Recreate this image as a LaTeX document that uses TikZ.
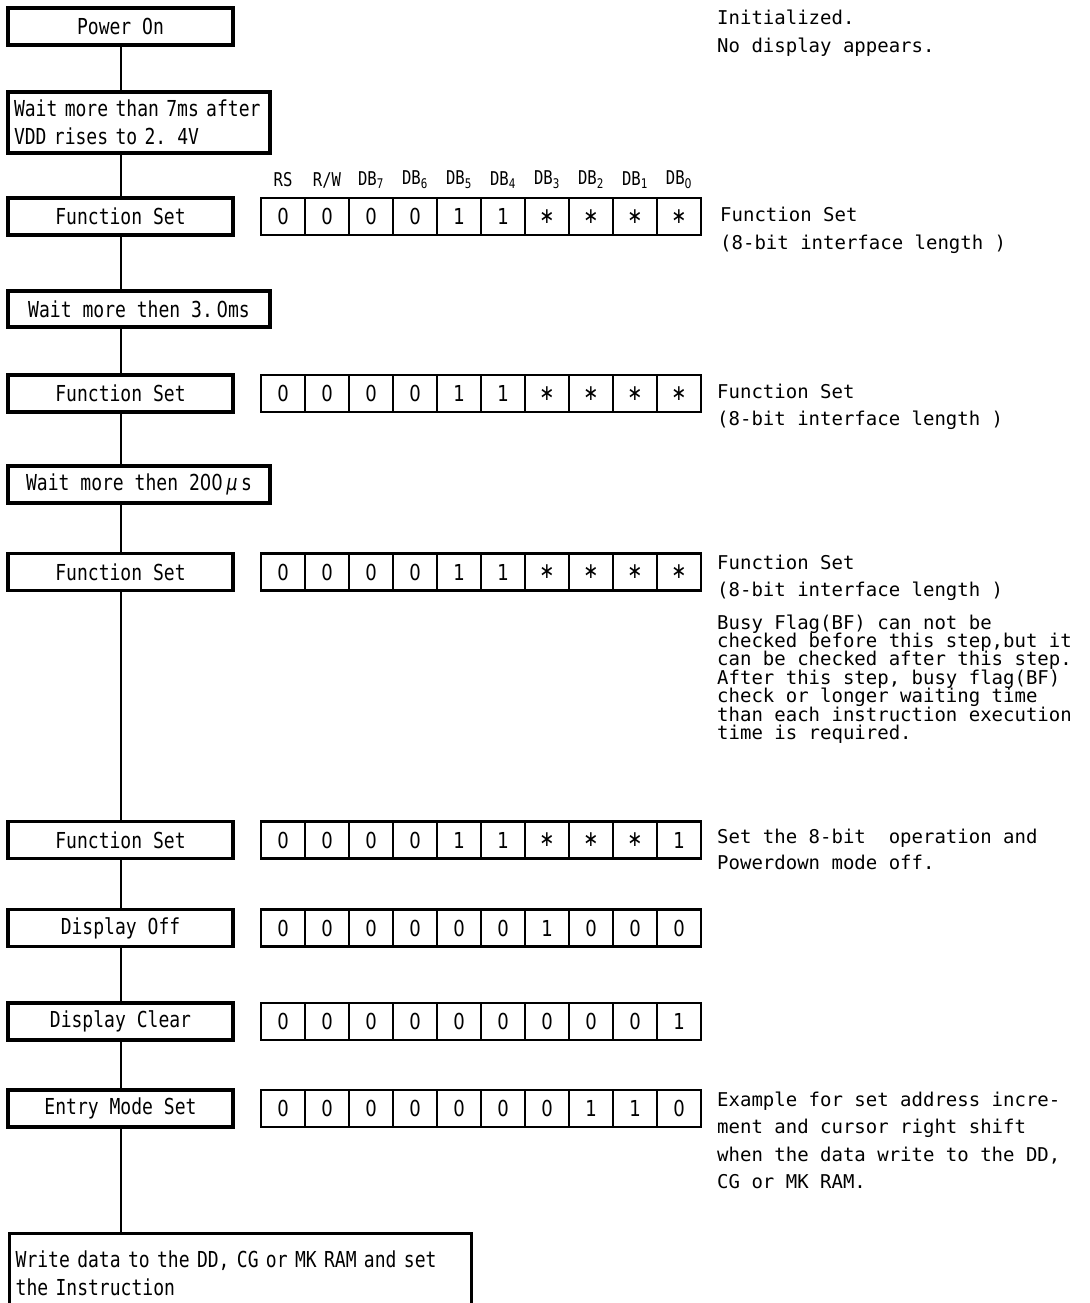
\documentclass[tikz,border=0pt]{standalone}
\usepackage{fontspec}
\newfontfamily\boxfont[FakeStretch=0.82]{DejaVu Sans Mono}
\newfontfamily\dz[FakeStretch=0.82]{DejaVu Sans}
\newfontfamily\rtfont{DejaVu Sans Mono}
\begin{document}
\begin{tikzpicture}[x=1pt,y=-1pt,
  box/.style={draw, line width=3.3pt, inner sep=0pt, minimum height=37pt,
    font=\boxfont\fontsize{22}{28}\selectfont},
  tbox/.style={box, align=left, inner xsep=5pt},
  cell/.style={draw, line width=2.8pt, minimum width=44pt, minimum height=37pt,
    inner sep=0pt, font=\dz\fontsize{22}{24}\selectfont},
  hdr/.style={font=\boxfont\fontsize{19}{20}\selectfont, inner sep=0pt},
  rt/.style={font=\rtfont\fontsize{19}{22}\selectfont, inner sep=0pt, anchor=base west},
  link/.style={line width=2pt}]
\useasboundingbox (0,0) rectangle (1089,1303);
\fill[white] (0,0) rectangle (1089,1303);

% left column boxes
\node[box, minimum width=225pt] (pon) at (120.5,26.5) {Power On};
\node[tbox, minimum width=262pt, minimum height=61pt, text width=250pt] (w7) at (139,122.5)
  {Wait more than 7ms after\\VDD rises to 2. 4V};
\node[box, minimum width=225pt] (fs1) at (120.5,216.5) {Function Set};
\node[box, minimum width=262pt, minimum height=36pt] (w3) at (139,309) {Wait more then 3.\,{\dz 0}ms};
\node[box, minimum width=225pt] (fs2) at (120.5,393.5) {Function Set};
\node[box, minimum width=262pt, minimum height=37pt] (w200) at (139,484.5) {Wait more then 2{\dz 00}\,\textit{μ}\,s};
\node[box, minimum width=225pt] (fs3) at (120.5,572) {Function Set};
\node[box, minimum width=225pt] (fs4) at (120.5,840) {Function Set};
\node[box, minimum width=225pt] (doff) at (120.5,928) {Display Off};
\node[box, minimum width=225pt] (dclr) at (120.5,1021.5) {Display Clear};
\node[box, minimum width=225pt] (ems) at (120.5,1108.5) {Entry Mode Set};
\node[tbox, minimum width=462pt, minimum height=80pt, text width=450pt, anchor=north west] (wr) at (8,1232)
  {Write data to the DD, CG or MK RAM and set\\the Instruction\\[10pt]};

% connectors
\coordinate (lx) at (121,0);
\foreach \a/\b in {pon/w7, w7/fs1, fs1/w3, w3/fs2, fs2/w200, w200/fs3, fs3/fs4, fs4/doff, doff/dclr, dclr/ems, ems/wr}
  \draw[link] (\a.south -| lx) -- (\b.north -| lx);

% register headers
\foreach \t [count=\i from 0] in {RS, R/W, DB\textsubscript{7}, DB\textsubscript{6}, DB\textsubscript{5}, DB\textsubscript{4}, DB\textsubscript{3}, DB\textsubscript{2}, DB\textsubscript{1}, DB\textsubscript{\dz 0}}
  \node[hdr] (h\i) at (283+44*\i,180) {\t};

% register cells
\foreach \r/\yy/\vals in {
  a/216.5/{0,0,0,0,1,1,∗,∗,∗,∗},
  b/393.5/{0,0,0,0,1,1,∗,∗,∗,∗},
  c/572/{0,0,0,0,1,1,∗,∗,∗,∗},
  d/840/{0,0,0,0,1,1,∗,∗,∗,1},
  e/928/{0,0,0,0,0,0,1,0,0,0},
  f/1021.5/{0,0,0,0,0,0,0,0,0,1},
  g/1108.5/{0,0,0,0,0,0,0,1,1,0}}
{
  \foreach \v [count=\i from 0] in \vals
    \node[cell] (\r c\i) at (283+44*\i,\yy) {\v};
}

% right-hand texts
\node[rt] (t0a) at (717,25) {Initialized.};
\node[rt] (t0b) at (717,53) {No display appears.};
\node[rt] (t1a) at (720,221) {Function Set};
\node[rt] (t1b) at (720,249) {(8-bit interface length )};
\node[rt] (t2a) at (717,398) {Function Set};
\node[rt] (t2b) at (717,425) {(8-bit interface length )};
\node[rt] (t3a) at (717,569) {Function Set};
\node[rt] (t3b) at (717,596) {(8-bit interface length )};
\foreach \t [count=\i from 0] in {{Busy Flag(BF) can not be},{checked before this step,but it},{can be checked after this step.},{After this step, busy flag(BF)},{check or longer waiting time},{than each instruction execution},{time is required.}}
  \node[rt] (bz\i) at (717,629+18.4*\i) {\t};
\node[rt] (t4a) at (717,843) {Set the 8-bit\ \ operation and};
\node[rt] (t4b) at (717,869) {Powerdown mode off.};
\foreach \t [count=\i from 0] in {{Example for set address incre-},{ment and cursor right shift},{when the data write to the DD,},{CG or MK RAM.}}
  \node[rt] (ex\i) at (717,1106+27.5*\i) {\t};
\end{tikzpicture}
\end{document}
